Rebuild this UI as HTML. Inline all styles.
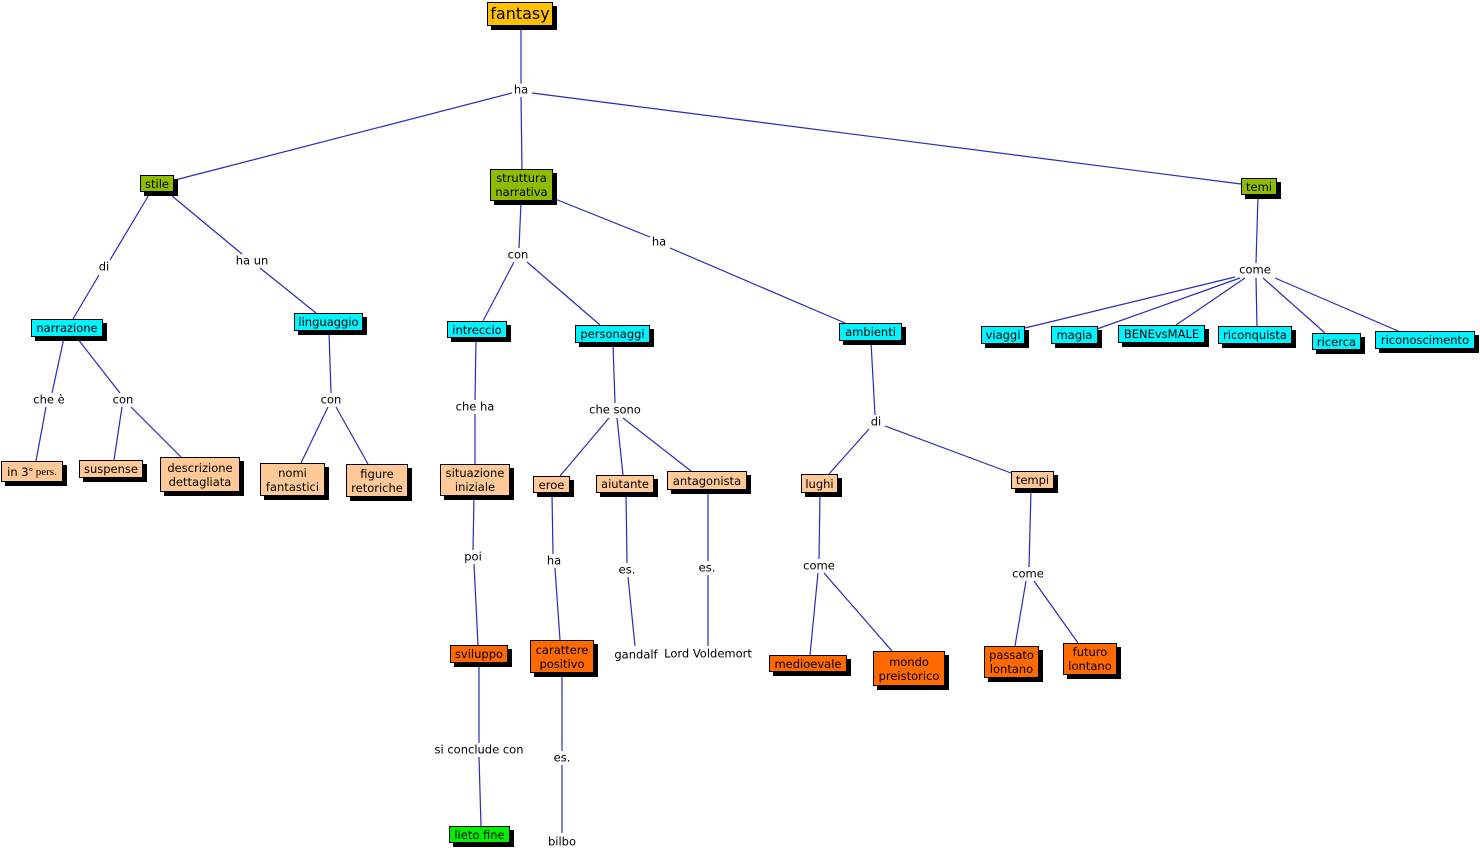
<!DOCTYPE html>
<html><head><meta charset="utf-8"><style>
body{margin:0;width:1480px;height:852px;background:#fff;position:relative;overflow:hidden;font-family:"DejaVu Sans","Liberation Sans",sans-serif;font-size:11.5px}
.n{position:absolute;border:1px solid #000;box-shadow:4px 4px 0 #000;box-sizing:border-box;display:flex;align-items:center;justify-content:center;text-align:center;line-height:14px;color:#000}
.g{background:#8fbc00}.c{background:#00f4ff}.p{background:#ffc897}.o{background:#ff6a00}.l{background:#00ee00}
.t{position:absolute;transform:translate(-50%,-50%);background:#fff;white-space:nowrap;line-height:13px;padding:0 1px}
svg{position:absolute;left:0;top:0}
</style></head><body>
<svg width="1480" height="852"><g stroke="#2a2ab8" stroke-width="1.2">
<line x1="521" y1="28" x2="521" y2="84"/>
<line x1="512" y1="93" x2="175" y2="180"/>
<line x1="521" y1="97" x2="522" y2="169"/>
<line x1="532" y1="93" x2="1241" y2="184"/>
<line x1="150" y1="193" x2="110" y2="260"/>
<line x1="99" y1="275" x2="73" y2="319"/>
<line x1="172" y1="196" x2="242" y2="254"/>
<line x1="260" y1="268" x2="316" y2="313"/>
<line x1="64" y1="338" x2="52" y2="393"/>
<line x1="46" y1="407" x2="36" y2="461"/>
<line x1="77" y1="338" x2="120" y2="393"/>
<line x1="122" y1="407" x2="114" y2="460"/>
<line x1="131" y1="407" x2="181" y2="457"/>
<line x1="329" y1="332" x2="331" y2="393"/>
<line x1="328" y1="407" x2="301" y2="463"/>
<line x1="336" y1="407" x2="368" y2="464"/>
<line x1="521" y1="202" x2="519" y2="248"/>
<line x1="514" y1="262" x2="483" y2="321"/>
<line x1="527" y1="262" x2="600" y2="325"/>
<line x1="555" y1="199" x2="650" y2="237"/>
<line x1="670" y1="248" x2="845" y2="323"/>
<line x1="1258" y1="196" x2="1256" y2="263"/>
<line x1="1235" y1="277" x2="1025" y2="328"/>
<line x1="1240" y1="278" x2="1097" y2="329"/>
<line x1="1245" y1="278" x2="1176" y2="325"/>
<line x1="1256" y1="278" x2="1257" y2="326"/>
<line x1="1263" y1="278" x2="1325" y2="333"/>
<line x1="1275" y1="278" x2="1398" y2="331"/>
<line x1="476" y1="339" x2="475" y2="400"/>
<line x1="475" y1="414" x2="475" y2="464"/>
<line x1="474" y1="497" x2="473" y2="550"/>
<line x1="474" y1="564" x2="478" y2="645"/>
<line x1="479" y1="664" x2="479" y2="743"/>
<line x1="479" y1="757" x2="481" y2="826"/>
<line x1="613" y1="344" x2="615" y2="403"/>
<line x1="609" y1="418" x2="560" y2="476"/>
<line x1="617" y1="418" x2="623" y2="475"/>
<line x1="623" y1="418" x2="691" y2="471"/>
<line x1="552" y1="494" x2="553" y2="554"/>
<line x1="555" y1="568" x2="560" y2="640"/>
<line x1="562" y1="674" x2="562" y2="751"/>
<line x1="562" y1="765" x2="562" y2="833"/>
<line x1="626" y1="494" x2="627" y2="563"/>
<line x1="628" y1="577" x2="635" y2="646"/>
<line x1="708" y1="491" x2="708" y2="561"/>
<line x1="708" y1="575" x2="708" y2="646"/>
<line x1="871" y1="342" x2="875" y2="415"/>
<line x1="869" y1="429" x2="829" y2="474"/>
<line x1="885" y1="426" x2="1011" y2="473"/>
<line x1="820" y1="494" x2="819" y2="559"/>
<line x1="818" y1="573" x2="810" y2="655"/>
<line x1="824" y1="573" x2="892" y2="651"/>
<line x1="1031" y1="490" x2="1029" y2="567"/>
<line x1="1026" y1="581" x2="1015" y2="646"/>
<line x1="1034" y1="581" x2="1078" y2="643"/>
</g></svg>
<div class="n" style="left:487px;top:2px;width:66px;height:24px;background:#ffc000;font-size:16px">fantasy</div>
<div class="n g" style="left:140px;top:175px;width:34px;height:17px">stile</div>
<div class="n g" style="left:490px;top:169px;width:63px;height:32px">struttura narrativa</div>
<div class="n g" style="left:1241px;top:178px;width:36px;height:17px">temi</div>
<div class="n c" style="left:31px;top:319px;width:72px;height:18px">narrazione</div>
<div class="n c" style="left:294px;top:313px;width:69px;height:18px">linguaggio</div>
<div class="n c" style="left:447px;top:321px;width:60px;height:17px">intreccio</div>
<div class="n c" style="left:575px;top:325px;width:75px;height:18px">personaggi</div>
<div class="n c" style="left:839px;top:323px;width:63px;height:18px">ambienti</div>
<div class="n c" style="left:981px;top:326px;width:44px;height:18px">viaggi</div>
<div class="n c" style="left:1051px;top:326px;width:47px;height:18px">magia</div>
<div class="n c" style="left:1118px;top:325px;width:87px;height:18px">BENEvsMALE</div>
<div class="n c" style="left:1218px;top:326px;width:74px;height:18px">riconquista</div>
<div class="n c" style="left:1312px;top:333px;width:49px;height:17px">ricerca</div>
<div class="n c" style="left:1375px;top:331px;width:100px;height:18px">riconoscimento</div>
<div class="n p" style="left:1px;top:461px;width:62px;height:21px">in 3<span style="font-family:'Liberation Serif',serif;font-size:11px">° pers.</span></div>
<div class="n p" style="left:79px;top:460px;width:64px;height:18px">suspense</div>
<div class="n p" style="left:160px;top:457px;width:80px;height:35px">descrizione dettagliata</div>
<div class="n p" style="left:260px;top:463px;width:65px;height:33px">nomi fantastici</div>
<div class="n p" style="left:346px;top:464px;width:62px;height:33px">figure retoriche</div>
<div class="n p" style="left:440px;top:464px;width:70px;height:32px">situazione iniziale</div>
<div class="n p" style="left:533px;top:476px;width:37px;height:17px">eroe</div>
<div class="n p" style="left:596px;top:475px;width:58px;height:18px">aiutante</div>
<div class="n p" style="left:667px;top:471px;width:80px;height:19px">antagonista</div>
<div class="n p" style="left:801px;top:474px;width:37px;height:19px">lughi</div>
<div class="n p" style="left:1011px;top:471px;width:43px;height:18px">tempi</div>
<div class="n o" style="left:450px;top:645px;width:58px;height:18px">sviluppo</div>
<div class="n o" style="left:530px;top:640px;width:64px;height:33px">carattere positivo</div>
<div class="n o" style="left:769px;top:655px;width:78px;height:17px">medioevale</div>
<div class="n o" style="left:873px;top:651px;width:72px;height:35px">mondo preistorico</div>
<div class="n o" style="left:984px;top:646px;width:55px;height:32px">passato lontano</div>
<div class="n o" style="left:1063px;top:643px;width:54px;height:32px">futuro lontano</div>
<div class="n l" style="left:449px;top:826px;width:61px;height:17px">lieto fine</div>
<div class="t" style="left:521px;top:90px">ha</div>
<div class="t" style="left:104px;top:267px">di</div>
<div class="t" style="left:252px;top:261px">ha un</div>
<div class="t" style="left:518px;top:255px">con</div>
<div class="t" style="left:659px;top:242px">ha</div>
<div class="t" style="left:1255px;top:270px">come</div>
<div class="t" style="left:49px;top:400px">che è</div>
<div class="t" style="left:123px;top:400px">con</div>
<div class="t" style="left:331px;top:400px">con</div>
<div class="t" style="left:475px;top:407px">che ha</div>
<div class="t" style="left:615px;top:410px">che sono</div>
<div class="t" style="left:876px;top:422px">di</div>
<div class="t" style="left:473px;top:557px">poi</div>
<div class="t" style="left:554px;top:561px">ha</div>
<div class="t" style="left:627px;top:570px">es.</div>
<div class="t" style="left:707px;top:568px">es.</div>
<div class="t" style="left:819px;top:566px">come</div>
<div class="t" style="left:1028px;top:574px">come</div>
<div class="t" style="left:479px;top:750px">si conclude con</div>
<div class="t" style="left:562px;top:758px">es.</div>
<div class="t" style="left:636px;top:655px">gandalf</div>
<div class="t" style="left:708px;top:654px">Lord Voldemort</div>
<div class="t" style="left:562px;top:842px">bilbo</div>
</body></html>
